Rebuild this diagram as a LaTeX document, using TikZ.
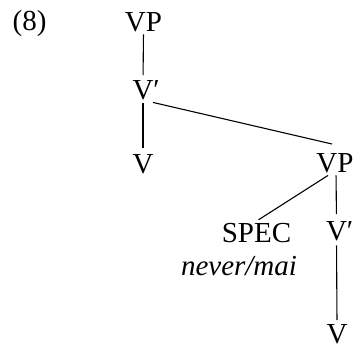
\documentclass[tikz,border=0pt]{standalone}
\usepackage{fontspec}
\setmainfont{Liberation Serif}
\newfontfamily\treefont{Liberation Serif}
\begin{document}
\begin{tikzpicture}[x=0.5pt,y=-0.5pt,
  lab/.style={inner sep=0pt, outer sep=0pt, anchor=base, font=\treefont\fontsize{14.5}{17}\selectfont},
  branch/.style={line width=0.55pt}]
\useasboundingbox (0,0) rectangle (357,347);
% labels
\node[lab] (ex)    at (29.5,31)  {(8)};
\node[lab] (vp1)   at (143.5,32) {VP};
\node[lab] (vb1)   at (143,100)  {V\rlap{\smash{′}}};
\node[lab] (v1)    at (143,173)  {V};
\node[lab] (vp2)   at (335,172)  {VP};
\node[lab] (spec)  at (256.5,242) {SPEC};
\node[lab] (word)  at (239,275)  {\itshape never/mai};
\node[lab] (vb2)   at (336.5,240) {V\rlap{\smash{′}}};
\node[lab] (v2)    at (337,343)  {V};
% branches
\draw[branch, shorten <=1pt, shorten >=3pt] (vp1.south) -- (vb1.north);
\draw[branch, shorten <=1.5pt, shorten >=3pt] (vb1.south) -- (v1.north);
\draw[branch] ([xshift=5pt,yshift=-1pt]vb1.south) -- ([xshift=-1.5pt,yshift=4.5pt]vp2.north);
\draw[branch] ([xshift=-3.5pt,yshift=-1.5pt]vp2.south) -- ([xshift=1pt,yshift=1.5pt]spec.north);
\draw[branch, shorten <=1.5pt, shorten >=3.5pt] ([xshift=0.5pt]vp2.south) -- (vb2.north);
\draw[branch, shorten <=2.5pt, shorten >=2pt] (vb2.south) -- (v2.north);
\end{tikzpicture}
\end{document}
